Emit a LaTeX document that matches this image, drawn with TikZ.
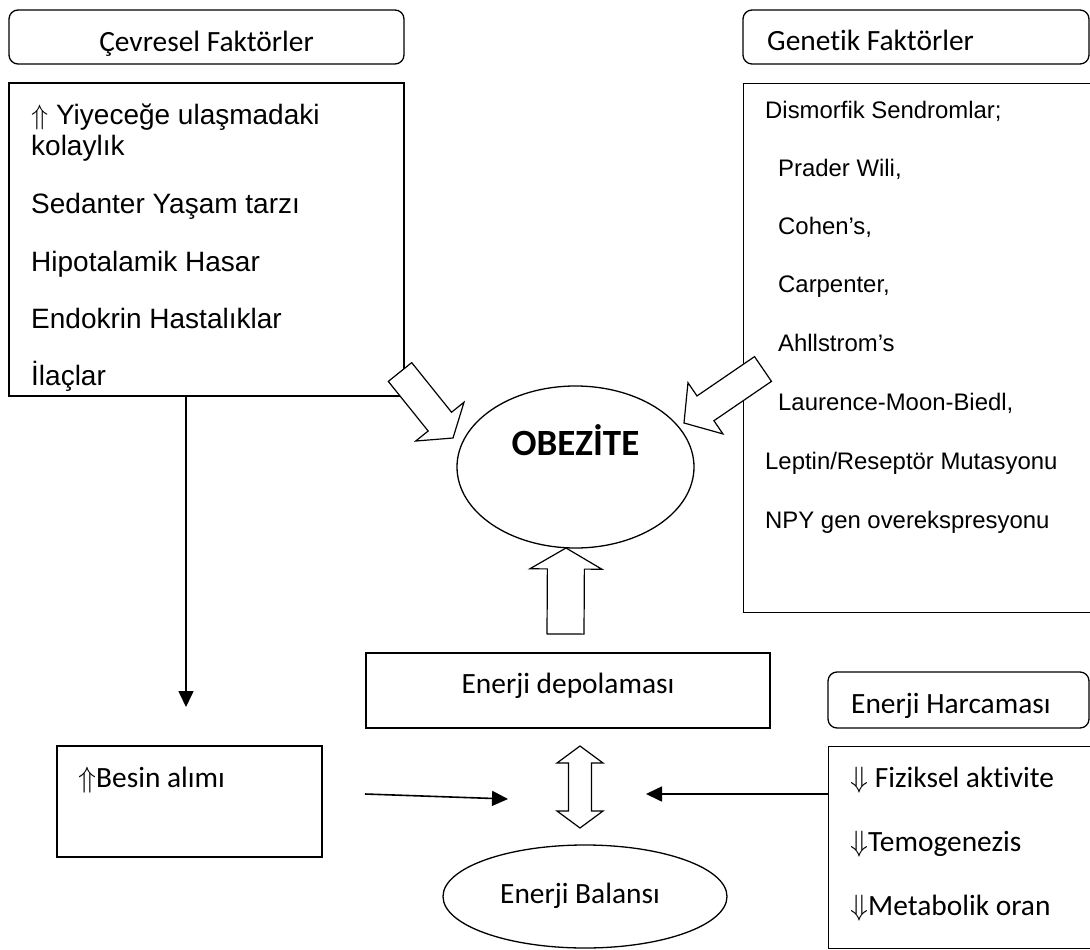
\documentclass[tikz,border=0pt]{standalone}
\usepackage{fix-cm}
\usepackage{fontspec}
\setmainfont{Carlito}[Ligatures={NoCommon}]
\newfontfamily\arialfont{Liberation Sans}
\usetikzlibrary{shapes.geometric,arrows.meta,calc}
\tikzset{box/.style={draw, line width=1.3pt, inner sep=0pt},
 roundbox/.style={box, rounded corners=9pt},
 oval/.style={draw, ellipse, line width=1.3pt, inner sep=0pt},
 txt/.style={anchor=base west, inner sep=0pt, font=\fontsize{29.4}{34}\selectfont},
 ctxt/.style={txt, anchor=base},
 cevtxt/.style={txt, font=\arialfont\fontsize{28}{32}\selectfont},
 gentxt/.style={txt, font=\arialfont\fontsize{23.9}{28}\selectfont},
 thinarrow/.style={line width=1.6pt, -{Triangle[length=16pt,width=15pt]}},
 fatarrow/.style={draw, fill=white, line width=1.2pt, line join=miter},
 }
% block arrow: tail, tip, shaft half width, head half width, head length
\newcommand{\blockarrow}[5]{%
  \coordinate (ba-h) at ($(#2)!#5!(#1)$);
  \draw[fatarrow] ($(#1)!#3!90:(#2)$) -- ($(ba-h)!#3!90:(#2)$) -- ($(ba-h)!#4!90:(#2)$) -- (#2)
    -- ($(ba-h)!#4!-90:(#2)$) -- ($(ba-h)!#3!-90:(#2)$) -- ($(#1)!#3!-90:(#2)$) -- cycle;
}
% double block arrow: tip, tip, shaft half width, head half width, head length
\newcommand{\dblblockarrow}[5]{%
  \coordinate (da-a) at ($(#1)!#5!(#2)$);
  \coordinate (da-b) at ($(#2)!#5!(#1)$);
  \draw[fatarrow] (#1) -- ($(da-a)!#4!90:(#2)$) -- ($(da-a)!#3!90:(#2)$)
    -- ($(da-b)!#3!-90:(#1)$) -- ($(da-b)!#4!-90:(#1)$) -- (#2)
    -- ($(da-b)!#4!90:(#1)$) -- ($(da-b)!#3!90:(#1)$)
    -- ($(da-a)!#3!-90:(#2)$) -- ($(da-a)!#4!-90:(#2)$) -- cycle;
}

\begin{document}
\begin{tikzpicture}[x=1pt, y=-1pt]
    \fill[white] (0,0) rectangle (1090,950);
    \useasboundingbox (0,0) rectangle (1090,950);

    % cevresel faktorler
    \node[roundbox, minimum width=395pt, minimum height=54pt] (cevhead) at (206.5,37) {};
    \node[ctxt] (cevheadtxt) at (206.5,52) {Çevresel Faktörler};
    \node[box, minimum width=395pt, minimum height=313pt] (cevlist) at (206.5,239.5) {};
    \node[cevtxt] (c1) at (31,124) {$\Uparrow$ Yiyeceğe ulaşmadaki};
    \node[cevtxt] (c2) at (31,155) {kolaylık};
    \node[cevtxt] (c3) at (31,213) {Sedanter Yaşam tarzı};
    \node[cevtxt] (c4) at (31,271) {Hipotalamik Hasar};
    \node[cevtxt] (c5) at (31,328) {Endokrin Hastalıklar};
    \node[cevtxt] (c6) at (31,385) {İlaçlar};

    % genetik faktorler
    \node[roundbox, minimum width=346pt, minimum height=54pt] (genhead) at (916,37) {};
    \node[txt] (genheadtxt) at (767,51) {Genetik Faktörler};
    \node[box, minimum width=360pt, minimum height=529pt, anchor=north west] (genlist) at (743,83) {};
    \node[gentxt] (g1) at (765,118) {Dismorfik Sendromlar;};
    \node[gentxt] (g2) at (778,176) {Prader Wili,};
    \node[gentxt] (g3) at (778,234) {Cohen’s,};
    \node[gentxt] (g4) at (778,292) {Carpenter,};
    \node[gentxt] (g5) at (778,351) {Ahllstrom’s};
    \node[gentxt] (g6) at (778,410) {Laurence-Moon-Biedl,};
    \node[gentxt] (g7) at (765,469) {Leptin/Reseptör Mutasyonu};
    \node[gentxt] (g8) at (765,528) {NPY gen overekspresyonu};

    % obezite
    \node[oval, minimum width=237pt, minimum height=162pt] (obezite) at (575.5,467) {};
    \node[ctxt, font=\bfseries\fontsize{37}{42}\selectfont] (obezitetxt) at (575.5,455) {OBEZİTE};

    % enerji
    \node[box, minimum width=404pt, minimum height=75pt] (depo) at (568,690.5) {};
    \node[ctxt] (depotxt) at (568,693) {Enerji depolaması};
    \node[box, minimum width=265pt, minimum height=111pt] (besin) at (189.5,801.5) {};
    \node[txt] (besintxt) at (78,787) {$\Uparrow$Besin alımı};
    \node[roundbox, minimum width=261pt, minimum height=56pt] (harhead) at (958.5,700) {};
    \node[txt] (harheadtxt) at (851,713) {Enerji Harcaması};
    \node[box, minimum width=272pt, minimum height=202pt, anchor=north west] (harlist) at (828,746) {};
    \node[txt] (h1) at (850,787) {$\Downarrow$ Fiziksel aktivite};
    \node[txt] (h2) at (850,851) {$\Downarrow$Temogenezis};
    \node[txt] (h3) at (850,915) {$\Downarrow$Metabolik oran};
    \node[oval, minimum width=284pt, minimum height=103pt] (balans) at (585,896.5) {};
    \node[ctxt] (balanstxt) at (580,903) {Enerji Balansı};

    % thin arrows
    \coordinate (besintop) at (186,707);
    \draw[thinarrow] (cevlist.south -| besintop) -- (besintop);
    \coordinate (alimstart) at (365,794);
    \coordinate (alimtip) at (508,799);
    \draw[thinarrow] (alimstart) -- (alimtip);
    \coordinate (harctip) at (646,794);
    \draw[thinarrow] (harlist.west |- harctip) -- (harctip);

    % block arrows
    \coordinate (cevtail) at (400,372);
    \coordinate (cevtip) at (453,438);
    \blockarrow{cevtail}{cevtip}{15pt}{31pt}{21pt}
    \coordinate (gentail) at (763,369);
    \coordinate (gentip) at (684,423);
    \blockarrow{gentail}{gentip}{15pt}{31pt}{26pt}
    \coordinate (depotail) at (565.5,634);
    \coordinate (depotip) at (566,548);
    \blockarrow{depotail}{depotip}{18.5pt}{36pt}{21pt}
    \coordinate (dbltop) at (580,746);
    \coordinate (dblbot) at (580,828);
    \dblblockarrow{dbltop}{dblbot}{11.5pt}{23pt}{17pt}
\end{tikzpicture}
\end{document}
